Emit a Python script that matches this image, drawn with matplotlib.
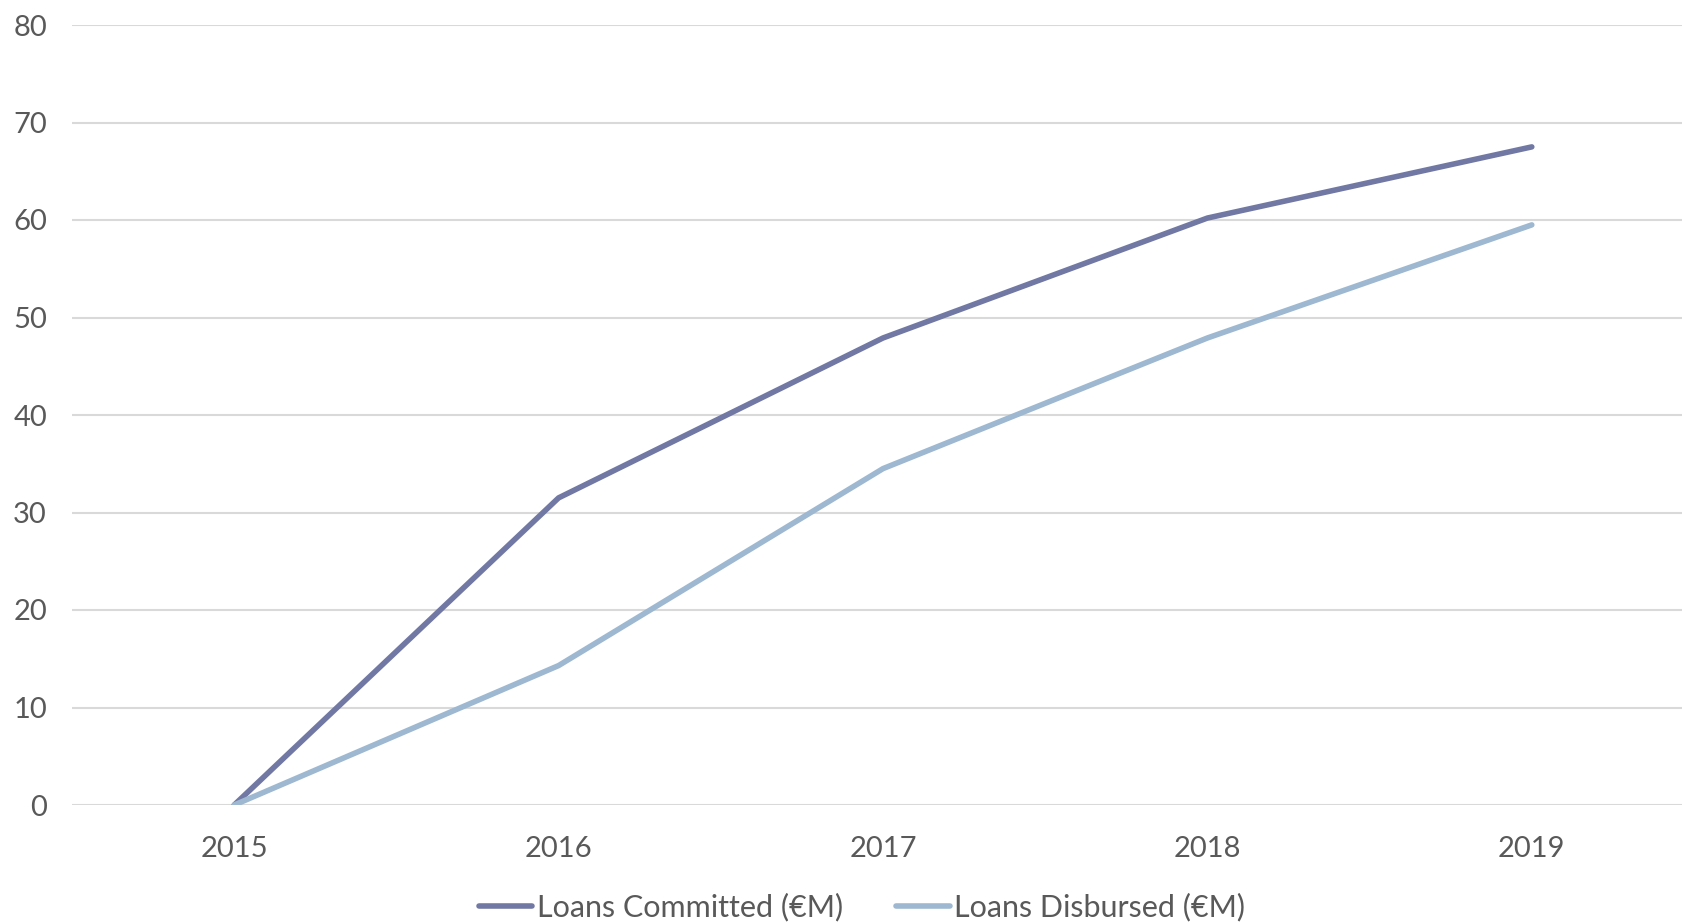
import matplotlib
matplotlib.use("Agg")
import matplotlib.pyplot as plt

years = ["2015", "2016", "2017", "2018", "2019"]
committed = [0.0, 31.5, 47.9, 60.2, 67.5]
disbursed = [0.0, 14.3, 34.5, 47.9, 59.5]
y_ticks = [0, 10, 20, 30, 40, 50, 60, 70, 80]

plt.rcParams["font.family"] = ["Lato", "DejaVu Sans"]
text_color = "#595959"
grid_color = "#d9d9d9"
c_committed = "#7078a3"
c_disbursed = "#9db8d0"

W, H = 1682, 923
fig = plt.figure(figsize=(W / 100, H / 100), dpi=100)
left, right = 72, 1694
top, bottom = 25, 805
ax = fig.add_axes([left / W, (H - bottom) / H, (right - left) / W, (bottom - top) / H])

x = list(range(len(years)))
ax.plot(x, committed, color=c_committed, lw=4, solid_capstyle="round",
        solid_joinstyle="round", label="Loans Committed (€M)", zorder=3)
ax.plot(x, disbursed, color=c_disbursed, lw=4, solid_capstyle="round",
        solid_joinstyle="round", label="Loans Disbursed (€M)", zorder=3)

ax.set_xlim(-0.5, len(years) - 0.5)
ax.set_ylim(0, 80)
ax.set_xticks(x)
ax.set_xticklabels(years)
ax.set_yticks(y_ticks)
ax.yaxis.grid(True, color=grid_color, lw=1.5)
ax.set_axisbelow(True)
for s in ax.spines.values():
    s.set_visible(False)
ax.tick_params(axis="both", length=0, labelsize=21, colors=text_color)
ax.tick_params(axis="x", pad=22)
ax.tick_params(axis="y", pad=18)
for lbl in ax.get_yticklabels():
    lbl.set_clip_on(False)

leg = fig.legend(loc="center", bbox_to_anchor=(862 / W, 1 - 907 / H), ncol=2,
                 frameon=False, fontsize=22, handlelength=1.75, handletextpad=0.15,
                 columnspacing=1.75, labelcolor=text_color)

fig.savefig("out.png", dpi=100)
